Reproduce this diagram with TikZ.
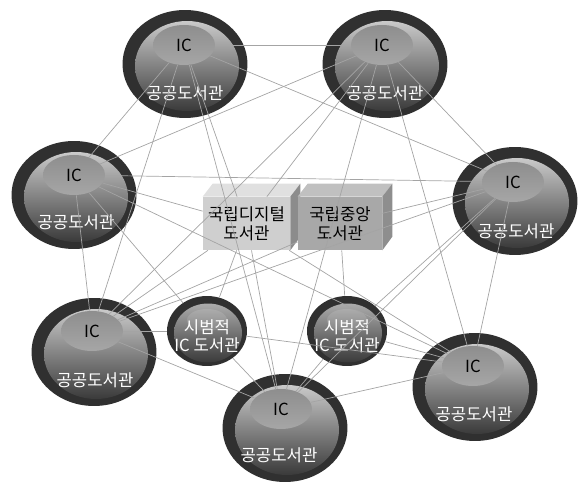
\documentclass[tikz,border=0pt]{standalone}
\usepackage{fontspec}
\setmainfont{Noto Sans CJK KR}
\usepackage{tikz}
\usetikzlibrary{shapes.geometric}

\definecolor{ringgray}{HTML}{303030}
\definecolor{bodytop}{HTML}{CACACA}
\definecolor{bodymid}{HTML}{8A8A8A}
\definecolor{bodybot}{HTML}{3A3A3A}
\definecolor{disctop}{HTML}{8E8E8E}
\definecolor{discbot}{HTML}{A6A6A6}
\definecolor{linegray}{HTML}{A4A4A4}
\definecolor{boxfront}{HTML}{CFCFCF}
\definecolor{boxtop}{HTML}{E0E0E0}
\definecolor{boxside}{HTML}{8C8C8C}
\definecolor{boxfrontb}{HTML}{A8A8A8}
\definecolor{boxtopb}{HTML}{C0C0C0}
\definecolor{boxsideb}{HTML}{8E8E8E}

\tikzset{
  ring/.style={shape=ellipse,fill=ringgray,inner sep=0pt,minimum width=2.5cm,minimum height=2.16cm},
  body/.style={shape=ellipse,top color=bodytop,middle color=bodymid,bottom color=bodybot,inner sep=0pt,minimum width=2.08cm,minimum height=1.8cm},
  disc/.style={shape=ellipse,top color=disctop,bottom color=discbot,inner sep=0pt,minimum width=1.24cm,minimum height=0.8cm,font=\fontsize{9.5}{11}\selectfont},
  libname/.style={text=white,font=\fontsize{9.5}{11}\selectfont},
  smallring/.style={shape=ellipse,fill=ringgray,inner sep=0pt,minimum width=1.6cm,minimum height=1.4cm},
  smallbody/.style={shape=ellipse,top color=bodytop!85!black,bottom color=bodybot,inner sep=0pt,minimum width=1.36cm,minimum height=1.18cm},
  smalldisc/.style={shape=ellipse,fill=white,fill opacity=0.12,inner sep=0pt,minimum width=0.8cm,minimum height=0.44cm},
  smalltext/.style={text=white,align=center,font=\fontsize{9.5}{10.5}\selectfont},
  natbox/.style={shape=rectangle,inner sep=0pt,minimum height=1.06cm,align=center,font=\fontsize{9.5}{11}\selectfont},
  link/.style={draw=linegray,line width=0.4pt}
}

\begin{document}
\begin{tikzpicture}[x=0.02cm,y=-0.02cm]
        \useasboundingbox (0,0) rectangle (579,482);

        % public libraries
        \node[ring] (aout) at (185, 64) {};
        \node[body] (abody) at (187, 66) {};
        \node[disc] (a) at (184, 45) {IC};
        \node[libname] (alab) at (185, 93) {공공도서관};

        \node[ring] (bout) at (385, 64) {};
        \node[body] (bbody) at (387, 66) {};
        \node[disc] (b) at (382, 45) {IC};
        \node[libname] (blab) at (385, 93) {공공도서관};

        \node[ring] (cout) at (74, 195) {};
        \node[body] (cbody) at (76, 197) {};
        \node[disc] (c) at (74, 175) {IC};
        \node[libname] (clab) at (76, 222) {공공도서관};

        \node[ring] (dout) at (515, 201) {};
        \node[body] (dbody) at (517, 203) {};
        \node[disc] (d) at (513, 182) {IC};
        \node[libname] (dlab) at (516, 231) {공공도서관};

        \node[ring] (eout) at (94, 352) {};
        \node[body] (ebody) at (96, 354) {};
        \node[disc] (e) at (92, 331) {IC};
        \node[libname] (elab) at (95, 380) {공공도서관};

        \node[ring] (fout) at (285, 428) {};
        \node[body] (fbody) at (287, 430) {};
        \node[disc] (f) at (281, 409) {IC};
        \node[libname] (flab) at (279, 455) {공공도서관};

        \node[ring] (gout) at (475, 387) {};
        \node[body] (gbody) at (477, 389) {};
        \node[disc] (g) at (473, 366) {IC};
        \node[libname] (glab) at (474, 414) {공공도서관};

        % pilot IC libraries
        \node[smallring] (s1) at (207, 331) {};
        \node[smallbody] (s1body) at (208, 333) {};
        \node[smalldisc] (s1disc) at (207, 320) {};
        \node[smalltext] (s1lab) at (207, 336) {시범적\\IC 도서관};

        \node[smallring] (s2) at (347, 331) {};
        \node[smallbody] (s2body) at (348, 333) {};
        \node[smalldisc] (s2disc) at (347, 320) {};
        \node[smalltext] (s2lab) at (347, 336) {시범적\\IC 도서관};

        % national libraries
        \node[natbox,fill=boxfront,minimum width=1.74cm] (k1) at (246.5, 223.5) {국립디지털\\도서관};
        \fill[boxtop] (k1.north west) -- ++(10,-13) -- ([shift={(10,-13)}]k1.north east) -- (k1.north east) -- cycle;
        \fill[boxside] (k1.north east) -- ++(10,-13) -- ++(0,53) -- (k1.south east) -- cycle;

        \node[natbox,fill=boxfrontb,minimum width=1.68cm] (k2) at (340, 223.5) {국립중앙\\도서관};
        \fill[boxtopb] (k2.north west) -- ++(10,-13) -- ([shift={(10,-13)}]k2.north east) -- (k2.north east) -- cycle;
        \fill[boxsideb] (k2.north east) -- ++(10,-13) -- ++(0,53) -- (k2.south east) -- cycle;

	\path[link] (a) edge (b);
	\path[link] (a) edge (c);
	\path[link] (a) edge (d);
	\path[link] (a) edge (e);
	\path[link] (a) edge (f);
	\path[link] (a) edge (k1);
	\path[link] (b) edge (c);
	\path[link] (b) edge (d);
	\path[link] (b) edge (e);
	\path[link] (b) edge (f);
	\path[link] (b) edge (g);
	\path[link] (b) edge (k1);
	\path[link] (c) edge (d);
	\path[link] (c) edge (e);
	\path[link] (c) edge (k1);
	\path[link] (c) edge (s1);
	\path[link] (c) edge (g);
	\path[link] (d) edge (k2);
	\path[link] (d) edge (e);
	\path[link] (d) edge (s2);
	\path[link] (d) edge (g);
	\path[link] (d) edge (f);
	\path[link] (e) edge (s1);
	\path[link] (e) edge (f);
	\path[link] (e) edge (k1);
	\path[link] (e) edge (k2);
	\path[link] (f) edge (s1);
	\path[link] (f) edge (s2);
	\path[link] (f) edge (g);
	\path[link] (f) edge (k1);
	\path[link] (g) edge (s1);
	\path[link] (g) edge (s2);
	\path[link] (g) edge (k1);
	\path[link] (s1) edge (k1);
	\path[link] (s2) edge (k2);
\end{tikzpicture}
\end{document}
